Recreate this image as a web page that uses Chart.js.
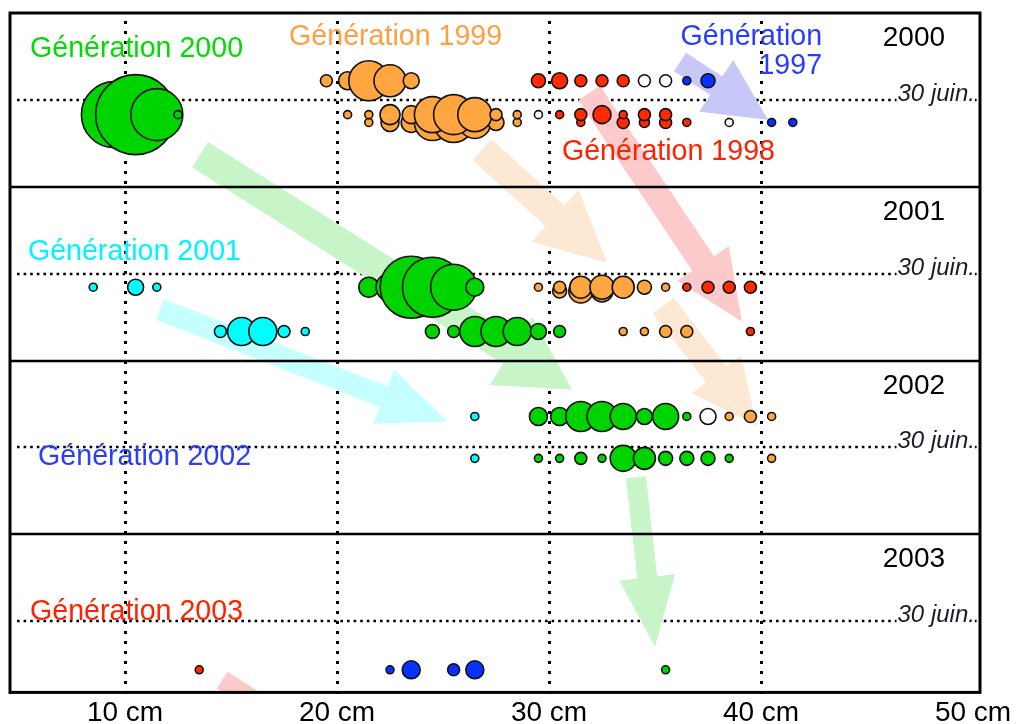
<!DOCTYPE html>
<html>
<head>
<meta charset="utf-8">
<script src="https://cdn.jsdelivr.net/npm/chart.js@4"></script>
<style>
  html, body { margin: 0; padding: 0; background: #fff; overflow: hidden; }
  #wrap { position: relative; width: 1029px; height: 734px; }
</style>
</head>
<body>
<div id="wrap"><canvas id="chart"></canvas></div>
<script>
// axe des tailles (cm) et des années
const xTicks = [10, 20, 30, 40, 50];
const xTickLabels = ["10 cm", "20 cm", "30 cm", "40 cm", "50 cm"];
const years = [2000, 2001, 2002, 2003];
const yearLabels = ["2000", "2001", "2002", "2003"];
const midYearLabel = "30 juin.";

// dates de pêche (année décimale)
const D2000a = 2000.39, D2000b = 2000.585, D2000c = 2000.63;
const D2001a = 2001.578, D2001a2 = 2001.60, D2001b = 2001.833;
const D2002a = 2002.322, D2002b = 2002.563;
const D2003 = 2003.78;

// [taille cm, date, effectif]
const gen1997 = [[36.5, D2000a, 4], [37.5, D2000a, 7], [40.5, D2000c, 4], [41.5, D2000c, 4]];

const gen1998 = [
  [29.5, D2000a, 7], [30.5, D2000a, 8], [31.5, D2000a, 6], [32.5, D2000a, 6], [33.5, D2000a, 6],
  [31.5, D2000c, 4], [33.5, D2000c, 6], [34.5, D2000c, 5], [35.5, D2000c, 6], [36.5, D2000c, 4],
  [30.5, D2000b, 4], [31.5, D2000b, 6], [32.5, D2000b, 9], [33.5, D2000b, 4], [34.5, D2000b, 6], [35.5, D2000b, 6],
  [36.5, D2001a, 4], [37.5, D2001a, 6], [38.5, D2001a, 6], [39.5, D2001a, 6],
  [39.5, D2001b, 4]
];

const gen1999 = [
  [19.5, D2000a, 6], [20.5, D2000a, 9], [21.5, D2000a, 20], [22.5, D2000a, 16], [23.5, D2000a, 8],
  [21.5, D2000c, 4], [22.5, D2000c, 9], [23.5, D2000c, 10], [24.5, D2000c, 18], [25.5, D2000c, 20],
  [26.5, D2000c, 16], [27.5, D2000c, 8], [28.5, D2000c, 4],
  [20.5, D2000b, 4], [21.5, D2000b, 4], [22.5, D2000b, 10], [23.5, D2000b, 9], [24.5, D2000b, 18],
  [25.5, D2000b, 20], [26.5, D2000b, 17], [27.5, D2000b, 6], [28.5, D2000b, 4],
  [30.5, D2001a2, 7], [31.5, D2001a2, 12], [32.5, D2001a2, 11],
  [29.5, D2001a, 4], [30.5, D2001a, 6], [31.5, D2001a, 11], [32.5, D2001a, 12], [33.5, D2001a, 11],
  [34.5, D2001a, 7], [35.5, D2001a, 4],
  [33.5, D2001b, 4], [34.5, D2001b, 4], [35.5, D2001b, 6], [36.5, D2001b, 6],
  [38.5, D2002a, 4], [39.5, D2002a, 6], [40.5, D2002a, 4],
  [40.5, D2002b, 4]
];

const gen2000 = [
  [9.5, D2000b, 33], [10.5, D2000b, 40], [11.5, D2000b, 26], [12.5, D2000b, 4],
  [21.5, D2001a, 10], [22.5, D2001a, 14], [23.5, D2001a, 31], [24.5, D2001a, 30], [25.5, D2001a, 23], [26.5, D2001a, 9],
  [24.5, D2001b, 7], [25.5, D2001b, 6], [26.5, D2001b, 15], [27.5, D2001b, 15], [28.5, D2001b, 14],
  [29.5, D2001b, 8], [30.5, D2001b, 6],
  [29.5, D2002a, 9], [30.5, D2002a, 9], [31.5, D2002a, 15], [32.5, D2002a, 15], [33.5, D2002a, 13],
  [34.5, D2002a, 8], [35.5, D2002a, 13], [36.5, D2002a, 4],
  [29.5, D2002b, 4], [30.5, D2002b, 4], [31.5, D2002b, 6], [32.5, D2002b, 4], [33.5, D2002b, 13],
  [34.5, D2002b, 11], [35.5, D2002b, 7], [36.5, D2002b, 7], [37.5, D2002b, 7], [38.5, D2002b, 4],
  [35.5, D2003, 4]
];

const gen2001 = [
  [8.5, D2001a, 4], [10.5, D2001a, 8], [11.5, D2001a, 4],
  [14.5, D2001b, 6], [15.5, D2001b, 14], [16.5, D2001b, 14], [17.5, D2001b, 6], [18.5, D2001b, 4],
  [26.5, D2002a, 4], [26.5, D2002b, 4]
];

const gen2002 = [[22.5, D2003, 4], [23.5, D2003, 9], [25.5, D2003, 6], [26.5, D2003, 9]];
const gen2003 = [[13.5, D2003, 4]];
const indetermines = [[34.5, D2000a, 6], [35.5, D2000a, 6], [29.5, D2000b, 4], [38.5, D2000c, 4], [37.5, D2002a, 8]];

// flèches de croissance : [départ cm, départ date, arrivée cm, arrivée date]
const arrowsGreen = [[13.54, 2000.816, 31.08, 2002.167], [34.10, 2002.672, 35.0, 2003.649]];
const arrowsOrange = [[26.84, 2000.787, 32.74, 2001.437], [35.38, 2001.684, 39.81, 2002.379]];
const arrowsRed = [[31.89, 2000.46, 39.10, 2001.776], [14.58, 2003.839, 23.92, 2004.569]];
const arrowsBlue = [[36.18, 2000.282, 40.33, 2000.615]];
const arrowsCyan = [[11.65, 2001.707, 25.19, 2002.351]];

// étiquettes des générations : [texte, cm, date]
const genLabels = [
  ["Génération 2000", 5.52, 2000.253],
  ["Génération 1999", 17.74, 2000.184],
  ["Génération 1998", 30.61, 2000.845],
  ["Génération 2001", 5.42, 2001.42],
  ["Génération 2002", 5.90, 2002.60],
  ["Génération 2003", 5.52, 2003.494]
];
const gen1997Label = [["Génération", 42.88, 2000.184], ["1997", 42.88, 2000.35]];

const colors = {
  g1997: "#0a30ff", g1998: "#ff2a00", g1999: "#ffa640", g2000: "#00d400",
  g2001: "#00ffff", g2002: "#0a30ff", g2003: "#ff2a00", ind: "#ffffff"
};
const textColors = ["#00dd00", "#ffa040", "#ff2200", "#00f4ff", "#2a3cff", "#ff2200"];

const toPoints = arr => arr.map(p => ({ x: p[0], y: p[1], r: p[2] }));

function bubbleSet(label, arr, color) {
  return {
    label,
    data: toPoints(arr),
    backgroundColor: color,
    borderColor: "#111",
    borderWidth: 1.6
  };
}

function drawArrow(ctx, x1, y1, x2, y2, w, hw, hl, color) {
  const dx = x2 - x1, dy = y2 - y1, len = Math.hypot(dx, dy);
  const ux = dx / len, uy = dy / len, px = -uy, py = ux;
  const bx = x2 - ux * hl, by = y2 - uy * hl;
  ctx.beginPath();
  ctx.moveTo(x1 + px * w / 2, y1 + py * w / 2);
  ctx.lineTo(bx + px * w / 2, by + py * w / 2);
  ctx.lineTo(bx + px * hw / 2, by + py * hw / 2);
  ctx.lineTo(x2, y2);
  ctx.lineTo(bx - px * hw / 2, by - py * hw / 2);
  ctx.lineTo(bx - px * w / 2, by - py * w / 2);
  ctx.lineTo(x1 - px * w / 2, y1 - py * w / 2);
  ctx.closePath();
  ctx.fillStyle = color;
  ctx.fill();
}

const decor = {
  id: "decor",
  beforeDatasetsDraw(chart) {
    const { ctx, chartArea: a, scales: { x, y } } = chart;
    ctx.save();

    // grille pointillée verticale
    ctx.strokeStyle = "#000";
    ctx.lineWidth = 3;
    ctx.setLineDash([3, 7]);
    xTicks.slice(0, 4).forEach(v => {
      const px = Math.round(x.getPixelForValue(v)) + 0.5;
      ctx.beginPath();
      ctx.moveTo(px, a.top + 8);
      ctx.lineTo(px, a.bottom + 4);
      ctx.stroke();
    });

    // 30 juin
    ctx.lineWidth = 2.6;
    ctx.setLineDash([2.6, 4]);
    years.forEach(yr => {
      const py = Math.round(y.getPixelForValue(yr + 0.5));
      ctx.beginPath();
      ctx.moveTo(a.left + 7, py);
      ctx.lineTo(a.right, py);
      ctx.stroke();
    });
    ctx.setLineDash([]);

    // flèches
    ctx.save();
    ctx.beginPath();
    ctx.rect(a.left, a.top, a.right - a.left, a.bottom - a.top);
    ctx.clip();
    const arrow = (p, w, hw, hl, c) => drawArrow(ctx,
      x.getPixelForValue(p[0]), y.getPixelForValue(p[1]),
      x.getPixelForValue(p[2]), y.getPixelForValue(p[3]), w, hw, hl, c);
    arrow(arrowsGreen[0], 30, 80, 72, "#c8f5c8");
    arrow(arrowsGreen[1], 20, 56, 70, "#c8f5c8");
    arrow(arrowsOrange[0], 28, 70, 70, "#fde8d4");
    arrow(arrowsOrange[1], 26, 62, 66, "#fde8d4");
    arrow(arrowsRed[0], 26, 62, 70, "#fccaca");
    arrow(arrowsRed[1], 20, 56, 60, "#fccaca");
    arrow(arrowsBlue[0], 22, 62, 62, "#c8c8f8");
    arrow(arrowsCyan[0], 22, 58, 68, "#c6ffff");
    ctx.restore();

    // séparations entre années
    ctx.lineWidth = 2.7;
    years.slice(1).forEach(yr => {
      const py = Math.round(y.getPixelForValue(yr));
      ctx.beginPath();
      ctx.moveTo(a.left, py);
      ctx.lineTo(a.right, py);
      ctx.stroke();
    });
    ctx.restore();
  },
  afterDatasetsDraw(chart) {
    const { ctx, chartArea: a, scales: { x, y } } = chart;
    ctx.save();

    // cadre
    ctx.strokeStyle = "#000";
    ctx.lineWidth = 3;
    ctx.strokeRect(a.left, a.top, a.right - a.left, a.bottom - a.top);

    ctx.font = '28.6px "Liberation Sans", Arial, sans-serif';
    ctx.textBaseline = "alphabetic";

    // générations
    ctx.textAlign = "left";
    genLabels.forEach((l, i) => {
      ctx.fillStyle = textColors[i];
      ctx.fillText(l[0], x.getPixelForValue(l[1]), y.getPixelForValue(l[2]));
    });
    ctx.textAlign = "right";
    ctx.fillStyle = "#2a3cff";
    gen1997Label.forEach(l => {
      ctx.fillText(l[0], x.getPixelForValue(l[1]), y.getPixelForValue(l[2]));
    });

    // années
    ctx.font = '28px "Liberation Sans", Arial, sans-serif';
    ctx.fillStyle = "#000";
    years.forEach((yr, i) => {
      ctx.fillText(yearLabels[i], x.getPixelForValue(48.68), y.getPixelForValue(yr + 0.19));
    });

    // 30 juin.
    ctx.font = 'italic 24px "Liberation Sans", Arial, sans-serif';
    years.forEach(yr => {
      const px = x.getPixelForValue(50.09);
      const py = y.getPixelForValue(yr + 0.5) + 1;
      const w = ctx.measureText(midYearLabel).width;
      ctx.fillStyle = "#fff";
      ctx.fillRect(px - w - 1, py - 18, w + 1, 8 + 18);
      ctx.fillStyle = "#1a1a2a";
      ctx.fillText(midYearLabel, px, py);
    });
    ctx.restore();
  }
};

new Chart(document.getElementById("chart"), {
  type: "bubble",
  data: {
    datasets: [
      bubbleSet("Génération 2003", gen2003, colors.g2003),
      bubbleSet("Génération 2002", gen2002, colors.g2002),
      bubbleSet("Génération 2001", gen2001, colors.g2001),
      bubbleSet("Génération 2000", gen2000, colors.g2000),
      bubbleSet("Indéterminé", indetermines, colors.ind),
      bubbleSet("Génération 1999", gen1999, colors.g1999),
      bubbleSet("Génération 1998", gen1998, colors.g1998),
      bubbleSet("Génération 1997", gen1997, colors.g1997)
    ]
  },
  options: {
    responsive: true,
    maintainAspectRatio: false,
    animation: false,
    events: [],
    layout: { autoPadding: false, padding: { left: 10, right: 49, top: 13, bottom: 0 } },
    plugins: { legend: { display: false }, tooltip: { enabled: false } },
    scales: {
      x: {
        type: "linear",
        min: 4.575,
        max: 50.33,
        afterBuildTicks: s => { s.ticks = xTicks.map(v => ({ value: v })); },
        ticks: {
          callback: v => xTickLabels[xTicks.indexOf(v)],
          font: { family: "Liberation Sans", size: 28 },
          color: "#000",
          padding: 4,
          maxRotation: 0,
          autoSkip: false
        },
        grid: { display: false, drawTicks: false },
        border: { display: false }
      },
      y: {
        type: "linear",
        reverse: true,
        min: 2000,
        max: 2003.91,
        display: false
      }
    }
  },
  plugins: [decor]
});
</script>
</body>
</html>
